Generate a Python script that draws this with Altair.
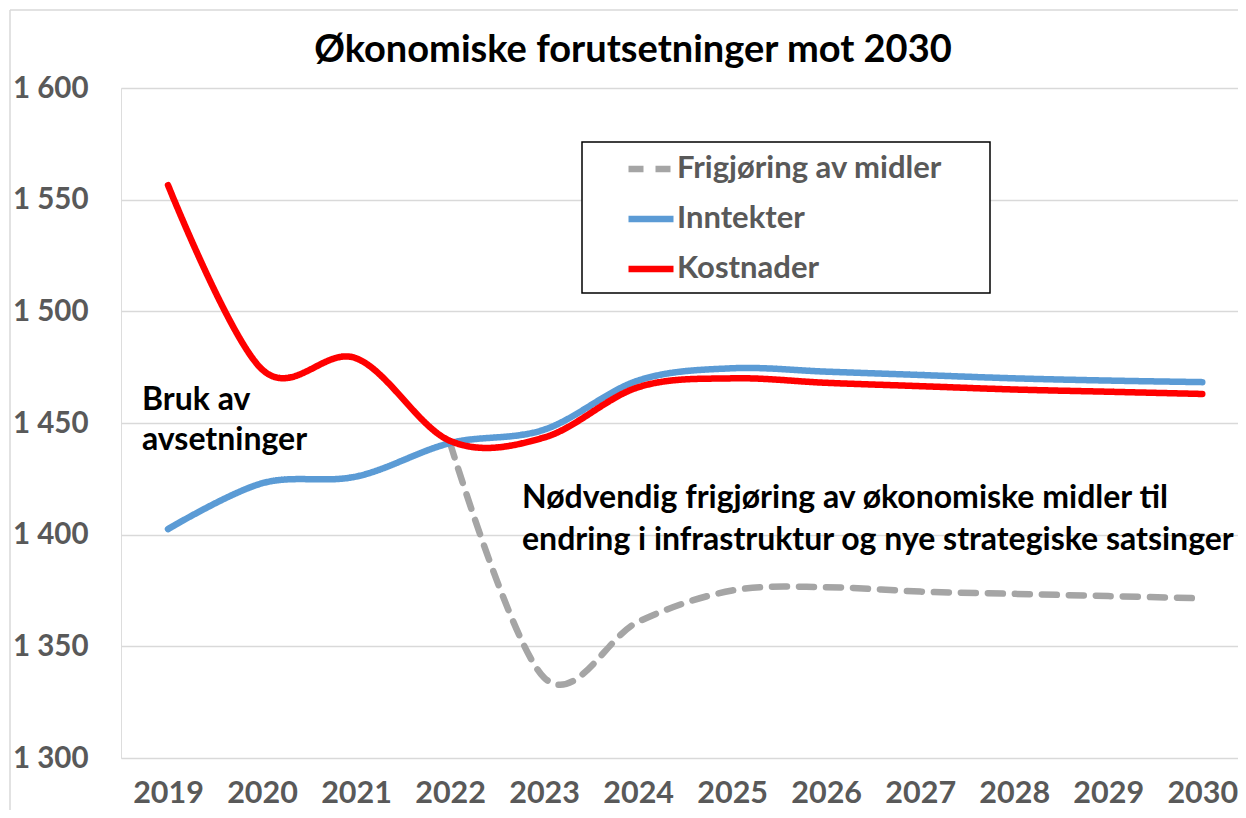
import altair as alt
import pandas as pd

years = list(range(2019, 2031))
series_names = ["Frigjøring av midler", "Inntekter", "Kostnader"]
frigjoring = [None, None, None, 1441, 1336, 1361, 1375, 1376.5, 1374.5, 1373.5, 1372.5, 1371.5]
inntekter = [1402.5, 1423, 1426, 1441, 1447, 1469, 1474.5, 1473, 1471.5, 1470, 1469, 1468.3]
kostnader = [1556.5, 1474, 1479, 1442, 1443.5, 1466, 1470, 1468, 1466.5, 1465, 1464, 1463]
series_colors = ["#A5A5A5", "#5B9BD5", "#FF0000"]
series_dashes = [[15, 12], [1, 0], [1, 0]]
y_ticks = [1300, 1350, 1400, 1450, 1500, 1550, 1600]
title_text = "Økonomiske forutsetninger mot 2030"
bruk_lines = ["Bruk av", "avsetninger"]
frig_lines = ["Nødvendig frigjøring av økonomiske midler til",
              "endring i infrastruktur og nye strategiske satsinger"]

rows = []
for name, vals in zip(series_names, [frigjoring, inntekter, kostnader]):
    for yr, v in zip(years, vals):
        if v is not None:
            rows.append({"År": yr, "Verdi": v, "Serie": name})
df = pd.DataFrame(rows)

FONT = "Lato"
GREY = "#595959"

legend_kw = dict(
    title=None, orient="none", legendX=504, legendY=55,
    labelFont=FONT, labelFontSize=31, labelFontWeight="bold", labelColor=GREY,
    labelLimit=500, padding=0, labelOffset=0, rowPadding=9,
    symbolType="stroke", symbolSize=2025, symbolStrokeWidth=6.5,
)

lines = alt.Chart(df).mark_line(
    interpolate="cardinal", strokeWidth=6.5, strokeCap="round", strokeJoin="round"
).encode(
    x=alt.X("År:Q", scale=alt.Scale(domain=[2018.5, 2030.38], nice=False, zero=False),
            axis=alt.Axis(values=years, format="d", title=None, labelFont=FONT,
                          labelFontSize=30.5, labelFontWeight="bold", labelColor=GREY,
                          domain=False, ticks=False, tickSize=0, grid=False,
                          labelPadding=20, labelFlush=False, labelOverlap=False)),
    y=alt.Y("Verdi:Q", scale=alt.Scale(domain=[1300, 1600], nice=False, zero=False),
            axis=alt.Axis(values=y_ticks, title=None, labelFont=FONT,
                          labelFontSize=29.5, labelFontWeight="bold", labelColor=GREY,
                          labelExpr="replace(format(datum.value, ',d'), ',', ' ')",
                          domain=False, ticks=False, tickSize=0, labelPadding=33,
                          grid=True, gridColor="#D9D9D9", gridWidth=1.5)),
    color=alt.Color("Serie:N", scale=alt.Scale(domain=series_names, range=series_colors),
                    legend=alt.Legend(**legend_kw)),
    strokeDash=alt.StrokeDash("Serie:N", scale=alt.Scale(domain=series_names, range=series_dashes),
                              legend=alt.Legend(**legend_kw)),
)

one = alt.Data(values=[{}])

border_left = alt.Chart(one).mark_rule(color="#D9D9D9", strokeWidth=1.5).encode(
    x=alt.value(-111), y=alt.value(-78), y2=alt.value(740))
border_top = alt.Chart(one).mark_rule(color="#D9D9D9", strokeWidth=1.5).encode(
    x=alt.value(-111), x2=alt.value(1140), y=alt.value(-78))

legend_box = alt.Chart(one).mark_rect(fill="white", stroke="black", strokeWidth=1.5).encode(
    x=alt.value(461), x2=alt.value(869), y=alt.value(54), y2=alt.value(205))

title = alt.Chart(one).mark_text(
    align="center", baseline="alphabetic", font=FONT, fontSize=38, fontWeight="bold",
    color="black"
).encode(x=alt.value(512), y=alt.value(-26), text=alt.value(title_text))

txt_bruk = alt.Chart(one).mark_text(
    align="left", baseline="alphabetic", font=FONT, fontSize=32, fontWeight="bold",
    color="black", lineHeight=40
).encode(x=alt.value(21), y=alt.value(322), text=alt.value(bruk_lines))

txt_frig = alt.Chart(one).mark_text(
    align="left", baseline="alphabetic", font=FONT, fontSize=32, fontWeight="bold",
    color="black", lineHeight=42
).encode(x=alt.value(401), y=alt.value(420), text=alt.value(frig_lines))

chart = alt.layer(border_left, border_top, legend_box, lines, title, txt_bruk, txt_frig).properties(
    width=1117, height=670,
    padding={"left": 113, "top": 80, "right": 0, "bottom": 52},
    autosize=alt.AutoSizeParams(type="none"),
).configure_view(stroke=None).configure(background="white")

chart.save("out.html", embed_options={"renderer": "svg", "actions": False})
